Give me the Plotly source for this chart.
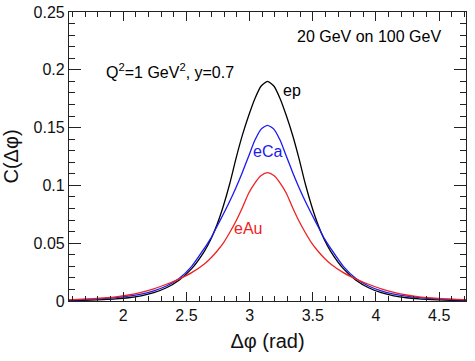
import plotly.graph_objects as go

# Δφ sample positions (rad)
dphi = [1.5708, 1.6416, 1.7416, 1.8416, 1.9416, 2.0416, 2.1416, 2.2416, 2.3416,
        2.4416, 2.5416, 2.6416, 2.6916, 2.7416, 2.7916, 2.8416, 2.8916, 2.9416,
        2.9916, 3.0416, 3.0916, 3.1416, 3.1916, 3.2416, 3.2916, 3.3416, 3.3916,
        3.4416, 3.4916, 3.5416, 3.5916, 3.6416, 3.7416, 3.8416, 3.9416, 4.0416,
        4.1416, 4.2416, 4.3416, 4.4416, 4.5416, 4.6416, 4.7124]

ep = [0.0004, 0.0005, 0.0008, 0.0012, 0.0018, 0.0028, 0.0045, 0.0072, 0.0115,
      0.018, 0.028, 0.043, 0.053, 0.066, 0.082, 0.101, 0.123, 0.143,
      0.160, 0.175, 0.186, 0.190, 0.186, 0.175, 0.160, 0.143, 0.123,
      0.101, 0.082, 0.066, 0.053, 0.043, 0.028, 0.018, 0.0115, 0.0072,
      0.0045, 0.0028, 0.0018, 0.0012, 0.0008, 0.0005, 0.0004]

eCa = [0.0010, 0.0011, 0.0015, 0.0021, 0.0030, 0.0042, 0.0060, 0.0088, 0.0130,
       0.0195, 0.030, 0.0455, 0.054, 0.0645, 0.075, 0.086, 0.098, 0.111,
       0.125, 0.139, 0.1487, 0.152, 0.1487, 0.139, 0.125, 0.111, 0.098,
       0.086, 0.075, 0.0645, 0.054, 0.0455, 0.030, 0.0195, 0.0130, 0.0088,
       0.0060, 0.0042, 0.0030, 0.0021, 0.0015, 0.0011, 0.0010]

eAu = [0.0012, 0.0014, 0.0019, 0.0026, 0.0036, 0.0052, 0.0075, 0.0105, 0.0145,
       0.019, 0.0245, 0.032, 0.037, 0.043, 0.050, 0.059, 0.069, 0.0805,
       0.093, 0.102, 0.1085, 0.111, 0.1085, 0.102, 0.093, 0.0805, 0.069,
       0.059, 0.050, 0.043, 0.037, 0.032, 0.0245, 0.019, 0.0145, 0.0105,
       0.0075, 0.0052, 0.0036, 0.0026, 0.0019, 0.0014, 0.0012]

x_ticks = [2, 2.5, 3, 3.5, 4, 4.5]
y_ticks = [0, 0.05, 0.1, 0.15, 0.2, 0.25]
y_ticklabels = ["0", "0.05", "0.1", "0.15", "0.2", "0.25"]

FONT = "Liberation Sans, Arial, Helvetica, sans-serif"

fig = go.Figure()
for vals, col in [(ep, "black"), (eCa, "#1a1aee"), (eAu, "#ee2222")]:
    fig.add_trace(go.Scatter(x=dphi, y=vals, mode="lines",
                             line=dict(color=col, width=1.3, shape="spline", smoothing=0.6),
                             showlegend=False, hoverinfo="skip"))

annots = [
    dict(x=3.948, y=0.2284, text="20 GeV on 100 GeV", color="black"),
    dict(x=2.371, y=0.1992, text="Q<sup>2</sup>=1 GeV<sup>2</sup>, y=0.7", color="black"),
    dict(x=3.334, y=0.1825, text="ep", color="black"),
    dict(x=3.144, y=0.129, text="eCa", color="#1a1aee"),
    dict(x=2.989, y=0.0623, text="eAu", color="#ee2222"),
]
for a in annots:
    fig.add_annotation(x=a["x"], y=a["y"], xref="x", yref="y", text=a["text"],
                       showarrow=False, font=dict(family=FONT, size=16, color=a["color"]))

axis_common = dict(showline=True, linecolor="#222", linewidth=1.2, mirror="allticks",
                   ticks="inside", tickcolor="#222", showgrid=False, zeroline=False,
                   automargin=False,
                   tickfont=dict(family=FONT, size=16, color="#111"))

fig.update_xaxes(range=[1.5708, 4.7124], tickvals=x_ticks, ticklen=9, tickwidth=1.2,
                 minor=dict(ticks="inside", dtick=0.1, tick0=0, ticklen=5, tickcolor="#222", tickwidth=1),
                 title=dict(text="Δφ (rad)", font=dict(family=FONT, size=20, color="#111"), standoff=10),
                 **axis_common)
fig.update_yaxes(range=[0, 0.25], tickvals=y_ticks, ticktext=y_ticklabels, ticklen=12, tickwidth=1.2,
                 minor=dict(ticks="inside", dtick=0.01, tick0=0, ticklen=6, tickcolor="#222", tickwidth=1),
                 title=dict(text="C(Δφ)", font=dict(family=FONT, size=20, color="#111"), standoff=12),
                 **axis_common)

fig.update_layout(width=475, height=361, plot_bgcolor="white", paper_bgcolor="white",
                  margin=dict(l=69, r=9, t=12, b=60))

fig.write_html("out.html", config={"displayModeBar": False},
               post_script="document.body.style.margin='0';")
